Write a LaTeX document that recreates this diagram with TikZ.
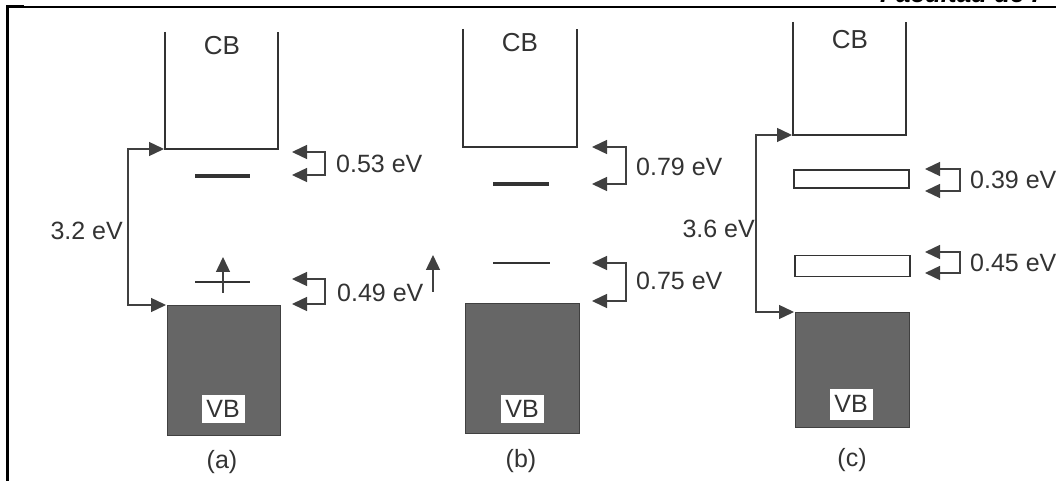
\documentclass[tikz,border=0pt]{standalone}
\usepackage{fontspec}
\setmainfont{Liberation Sans}
\usetikzlibrary{arrows.meta}
\definecolor{ink}{HTML}{333333}
\definecolor{arrink}{HTML}{404040}
\tikzset{
  band/.style={line width=2pt, draw=ink},
  lvlthick/.style={line width=4pt, draw=ink},
  lvlthin/.style={line width=2pt, draw=ink},
  lvlbox/.style={draw=ink, line width=1.8pt, fill=white, inner sep=0pt},
  arr/.style={draw=arrink, line width=1.4pt, -{Triangle[length=15pt,width=14pt]}},
  lbl/.style={font=\fontsize{25}{28}\selectfont, text=ink, inner sep=0pt},
  caplbl/.style={font=\fontsize{25}{28}\selectfont, text=ink, inner sep=0pt},
  bandlbl/.style={font=\fontsize{26}{30}\selectfont, text=ink, inner sep=0pt},
  vbbox/.style={fill=black!60, draw=black!75, line width=0.8pt, inner sep=0pt},
  vblbl/.style={fill=white, font=\fontsize{25}{28}\selectfont, text=ink, inner sep=1pt, minimum width=43pt, minimum height=28pt},
  frame/.style={draw=black, line cap=rect}
}
\begin{document}
\begin{tikzpicture}[x=1pt,y=-1pt]
\useasboundingbox (0,0) rectangle (1061,481);
\clip (0,0) rectangle (1061,481);
\fill[white] (0,0) rectangle (1061,481);
% frame
\draw[frame, line width=2pt] (7,7) -- (1055,7);
\draw[frame, line width=3pt] (7,7) -- (7,481);
\draw[frame, line width=3pt] (7,7) -- (22,7);
\node[anchor=base west, font=\bfseries\itshape\fontsize{26}{30}\selectfont, text=black, inner sep=0pt] (hdr) at (880,3) {Facultad de I};

% ================= (a) =================
\draw[band] (165,32) -- (165,149) -- (278,149) -- (278,32);
\node[bandlbl] (aCB) at (222,46) {CB};
\draw[lvlthick] (195,176) coordinate (aL1w) -- (250,176) coordinate (aL1e);
\draw[lvlthin] (195,282) coordinate (aL2w) -- (250,282) coordinate (aL2e);
\coordinate (aE0) at (223,293);
\coordinate (aE1) at (223,257);
\draw[arr] (aE0) -- (aE1);
\node[vbbox, minimum width=113pt, minimum height=130pt] (aVB) at (223.5,370) {};
\node[vblbl] (aVBl) at (223,409) {VB};
\node[caplbl] (aCap) at (222,462) {(a)};
% 3.2 eV bracket
\coordinate (aGm) at (128,228);
\coordinate (aGt) at (164,149);
\coordinate (aGb) at (166,305);
\draw[arr] (aGm) |- (aGt);
\draw[arr] (aGm) |- (aGb);
\node[lbl, anchor=east] (a32) at (123,231) {3.2 eV};
% right brackets
\coordinate (aR1m) at (325,164);
\coordinate (aR1t) at (292,152);
\coordinate (aR1b) at (292,175);
\draw[arr] (aR1m) |- (aR1t);
\draw[arr] (aR1m) |- (aR1b);
\node[lbl, anchor=west] (a053) at (336,164) {0.53 eV};
\coordinate (aR2m) at (325,291);
\coordinate (aR2t) at (292,279);
\coordinate (aR2b) at (292,304);
\draw[arr] (aR2m) |- (aR2t);
\draw[arr] (aR2m) |- (aR2b);
\node[lbl, anchor=west] (a049) at (337,293) {0.49 eV};
% free upward arrow
\coordinate (fU0) at (433,292);
\coordinate (fU1) at (433,255);
\draw[arr] (fU0) -- (fU1);

% ================= (b) =================
\draw[band] (463,29) -- (463,147) -- (577,147) -- (577,29);
\node[bandlbl] (bCB) at (520,43) {CB};
\draw[lvlthick] (493,184) coordinate (bL1w) -- (549,184) coordinate (bL1e);
\draw[lvlthin] (493,263) coordinate (bL2w) -- (550,263) coordinate (bL2e);
\node[vbbox, minimum width=114pt, minimum height=130pt] (bVB) at (522,368) {};
\node[vblbl] (bVBl) at (522,409) {VB};
\node[caplbl] (bCap) at (521,461) {(b)};
\coordinate (bR1m) at (626,166);
\coordinate (bR1t) at (592,147);
\coordinate (bR1b) at (592,184);
\draw[arr] (bR1m) |- (bR1t);
\draw[arr] (bR1m) |- (bR1b);
\node[lbl, anchor=west] (b079) at (636,167) {0.79 eV};
\coordinate (bR2m) at (626,282);
\coordinate (bR2t) at (592,263);
\coordinate (bR2b) at (592,301);
\draw[arr] (bR2m) |- (bR2t);
\draw[arr] (bR2m) |- (bR2b);
\node[lbl, anchor=west] (b075) at (636,281) {0.75 eV};

% ================= (c) =================
\draw[band] (793,22) -- (793,135) -- (906,135) -- (906,22);
\node[bandlbl] (cCB) at (850,40) {CB};
\node[lvlbox, minimum width=115pt, minimum height=18pt] (cL1) at (851.5,179) {};
\node[lvlbox, minimum width=115pt, minimum height=21pt] (cL2) at (852.5,266) {};
\node[vbbox, minimum width=114pt, minimum height=115pt] (cVB) at (852,369.5) {};
\node[vblbl, minimum height=31pt] (cVBl) at (851,404) {VB};
\node[caplbl] (cCap) at (852,460) {(c)};
\coordinate (cGm) at (756,228);
\coordinate (cGt) at (792,135);
\coordinate (cGb) at (794,312);
\draw[arr] (cGm) |- (cGt);
\draw[arr] (cGm) |- (cGb);
\node[lbl, anchor=east] (c36) at (755,229) {3.6 eV};
\coordinate (cR1m) at (960,180);
\coordinate (cR1t) at (925,169);
\coordinate (cR1b) at (925,191);
\draw[arr] (cR1m) |- (cR1t);
\draw[arr] (cR1m) |- (cR1b);
\node[lbl, anchor=west] (c039) at (970,180) {0.39 eV};
\coordinate (cR2m) at (960,262);
\coordinate (cR2t) at (925,252);
\coordinate (cR2b) at (925,273);
\draw[arr] (cR2m) |- (cR2t);
\draw[arr] (cR2m) |- (cR2b);
\node[lbl, anchor=west] (c045) at (970,263) {0.45 eV};
\end{tikzpicture}
\end{document}
